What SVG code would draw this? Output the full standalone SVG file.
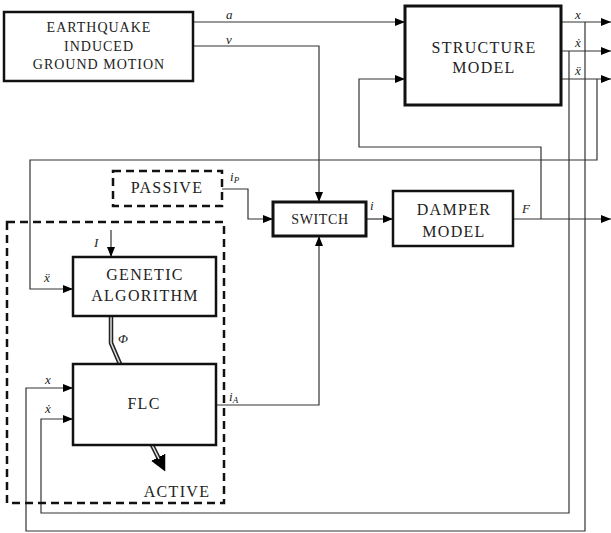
<svg xmlns="http://www.w3.org/2000/svg" width="611" height="533" viewBox="0 0 611 533">
<defs>
<style>
.box{fill:#fff;stroke:#111;stroke-width:2.5}
.dash{fill:none;stroke:#111;stroke-width:2.5;stroke-dasharray:8 5}
.ln{fill:none;stroke:#333;stroke-width:1.2}
.t{font-size:16px;letter-spacing:1.3px;text-anchor:middle}
.s{font-size:13px;font-style:italic}
</style>
<marker id="ar" markerWidth="10" markerHeight="8" refX="10" refY="4" orient="auto" markerUnits="userSpaceOnUse">
<path d="M0,0 L10,4 L0,8 z" fill="#000"/>
</marker>
<marker id="big" markerWidth="16" markerHeight="16" refX="2" refY="8" orient="auto" markerUnits="userSpaceOnUse">
<path d="M0,0 L16,8 L0,16 z" fill="#000"/>
</marker>
</defs>
<g id="connectors">
<path class="ln" d="M193,22 H405" marker-end="url(#ar)"/>
<path class="ln" d="M193,46 H319 V202" marker-end="url(#ar)"/>
<path class="ln" d="M222,189 H248 V219 H273" marker-end="url(#ar)"/>
<path class="ln" d="M366,219 H393" marker-end="url(#ar)"/>
<path class="ln" d="M513,219 H611" marker-end="url(#ar)"/>
<path class="ln" d="M541,219 V147 H359 V79 H405" marker-end="url(#ar)"/>
<path class="ln" d="M561,22 H611" marker-end="url(#ar)"/>
<path class="ln" d="M561,51 H611" marker-end="url(#ar)"/>
<path class="ln" d="M561,79 H611" marker-end="url(#ar)"/>
<path class="ln" d="M585,22 V531 H26 V388 H73" marker-end="url(#ar)"/>
<path class="ln" d="M569,51 V513 H41 V419 H73" marker-end="url(#ar)"/>
<path class="ln" d="M597,79 V160 H30 V289 H73" marker-end="url(#ar)"/>
<path class="ln" d="M111,230 V257" marker-end="url(#ar)"/>
<path class="ln" d="M216,405 H319 V236" marker-end="url(#ar)"/>
<path d="M111,316 V343 L120,364" fill="none" stroke="#222" stroke-width="4.5"/>
<path d="M111,316 V343 L120,364" fill="none" stroke="#ddd" stroke-width="1.5"/>
<path d="M152,445 L159,459" fill="none" stroke="#222" stroke-width="4.5" marker-end="url(#big)"/>
<path d="M152,445 L159,459" fill="none" stroke="#ddd" stroke-width="1.5"/>
</g>
<g font-family="Liberation Serif, Tinos, Times New Roman, DejaVu Serif, serif" fill="#222">
<g id="earthquake">
<rect class="box" x="4" y="12" width="189" height="69"/>
<text class="t" style="font-size:14px;letter-spacing:1px" x="99" y="32">EARTHQUAKE</text>
<text class="t" style="font-size:14px;letter-spacing:1px" x="99" y="51">INDUCED</text>
<text class="t" style="font-size:14px;letter-spacing:1px" x="99" y="69">GROUND MOTION</text>
</g>
<g id="structure">
<rect class="box" x="405" y="6" width="156" height="99" style="stroke-width:3"/>
<text class="t" x="484" y="53">STRUCTURE</text>
<text class="t" x="484" y="73">MODEL</text>
</g>
<g id="passive">
<rect class="dash" x="113" y="171" width="109" height="35"/>
<text class="t" x="167" y="193">PASSIVE</text>
</g>
<g id="switch">
<rect class="box" x="273" y="202" width="93" height="34" style="stroke-width:3"/>
<text class="t" style="font-size:14px;letter-spacing:0.6px" x="320" y="224">SWITCH</text>
</g>
<g id="damper">
<rect class="box" x="393" y="191" width="120" height="55"/>
<text class="t" x="454" y="215">DAMPER</text>
<text class="t" x="454" y="237">MODEL</text>
</g>
<g id="active">
<rect class="dash" x="7" y="222" width="217" height="281"/>
<text class="t" x="177" y="497">ACTIVE</text>
</g>
<g id="ga">
<rect class="box" x="73" y="257" width="143" height="59"/>
<text class="t" x="145" y="280">GENETIC</text>
<text class="t" x="145" y="301">ALGORITHM</text>
</g>
<g id="flc">
<rect class="box" x="73" y="364" width="143" height="81"/>
<text class="t" x="144" y="409">FLC</text>
</g>
<g id="labels">
<text class="s" x="226" y="19">a</text>
<text class="s" x="226" y="44">v</text>
<text class="s" x="575" y="19">x</text>
<text class="s" x="575" y="47">ẋ</text>
<text class="s" x="575" y="75">ẍ</text>
<text class="s" x="230" y="181">i<tspan font-size="9" dy="2">P</tspan></text>
<text class="s" x="370" y="210">i</text>
<text class="s" x="522" y="213">F</text>
<text class="s" x="94" y="247">I</text>
<text class="s" x="44" y="282">ẍ</text>
<text class="s" x="118" y="343">Φ</text>
<text class="s" x="229" y="401">i<tspan font-size="9" dy="2">A</tspan></text>
<text class="s" x="45" y="384">x</text>
<text class="s" x="45" y="413">ẋ</text>
</g>
</g>
</svg>
